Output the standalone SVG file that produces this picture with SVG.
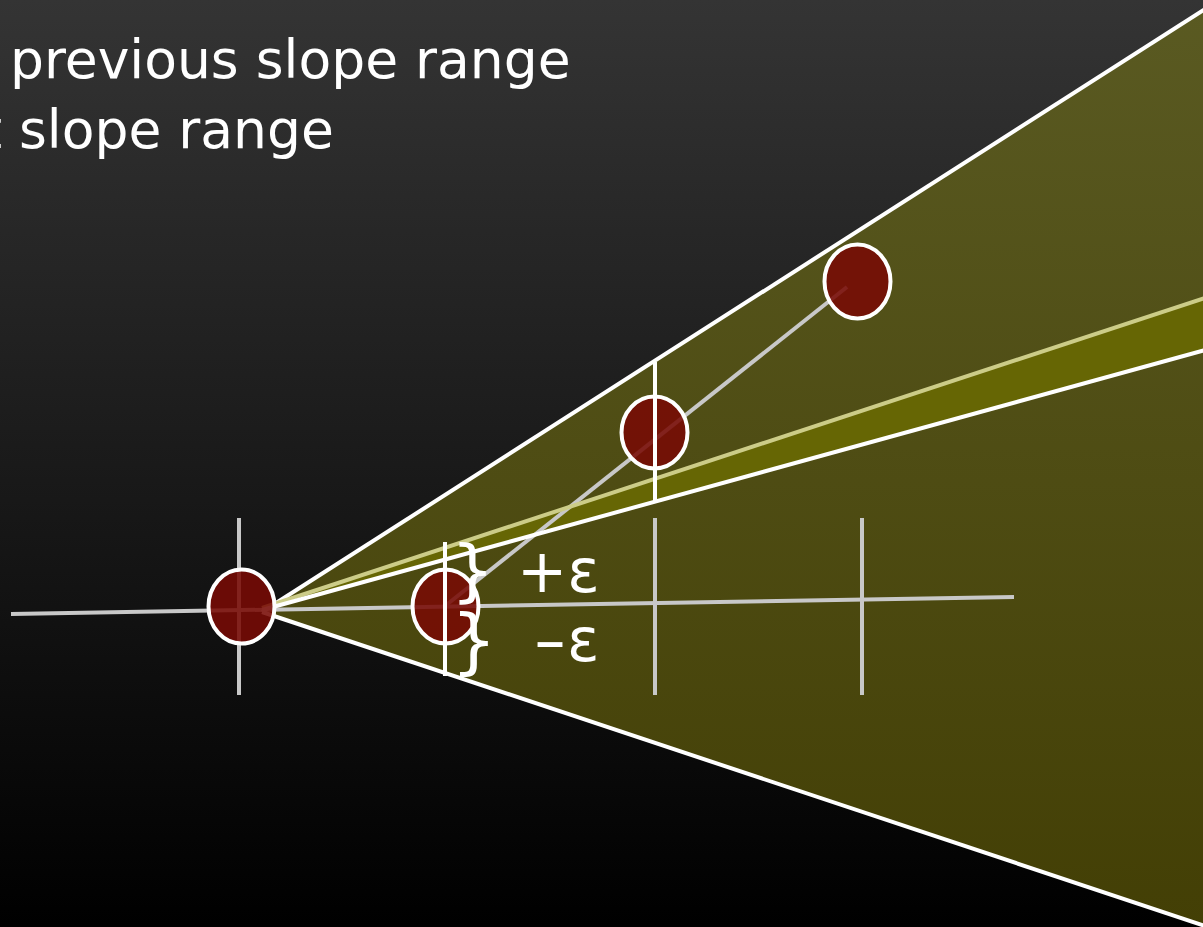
<svg xmlns="http://www.w3.org/2000/svg" width="1203" height="927" viewBox="0 0 1203 927">
  <defs>
    <linearGradient id="bg" x1="0" y1="0" x2="0" y2="1">
      <stop offset="0" stop-color="#343434"/>
      <stop offset="1" stop-color="#000000"/>
    </linearGradient>
    <linearGradient id="cone" x1="0" y1="0" x2="0" y2="927" gradientUnits="userSpaceOnUse">
      <stop offset="0" stop-color="#5a5a22"/>
      <stop offset="1" stop-color="#433f05"/>
    </linearGradient>
    <style>
      .txt { font-family: "DejaVu Sans", Verdana, sans-serif; fill: #ffffff; }
      .gray { stroke: #c8c8c8; stroke-width: 4; fill: none; }
      .white { stroke: #ffffff; stroke-width: 4; fill: none; }
      .pale { stroke: #cccc88; stroke-width: 4; fill: none; }
      .node { fill: #780a04; fill-opacity: 0.88; stroke: #ffffff; stroke-width: 4; }
    </style>
  </defs>
  <rect x="0" y="0" width="1203" height="927" fill="url(#bg)"/>

  <g id="slope-ranges">
    <polygon points="262,612 1203,10 1203,925" fill="url(#cone)"/>
    <polygon points="262,608 1203,299 1203,350 262,610" fill="#666604"/>
  </g>

  <g id="connectors">
    <line class="gray" x1="11" y1="614" x2="1014" y2="597"/>
    <line class="gray" x1="239" y1="518" x2="239" y2="695"/>
    <line class="gray" x1="655" y1="518" x2="655" y2="695"/>
    <line class="gray" x1="862" y1="518" x2="862" y2="695"/>
    <line class="gray" x1="445" y1="606" x2="847" y2="287"/>
    <line class="white" x1="262" y1="612" x2="1205" y2="9"/>
    <line class="white" x1="262" y1="612" x2="1205" y2="926"/>
    <line class="pale" x1="262" y1="608" x2="1205" y2="298"/>
    <line class="white" x1="262" y1="610" x2="1205" y2="350"/>
  </g>

  <g id="node-1"><ellipse class="node" cx="241.5" cy="606.5" rx="33" ry="37"/></g>
  <g id="node-2"><ellipse class="node" cx="445.5" cy="606.5" rx="33" ry="37"/></g>
  <g id="node-3"><ellipse class="node" cx="654.5" cy="432.5" rx="33" ry="36"/></g>
  <g id="node-4"><ellipse class="node" cx="857.5" cy="281.5" rx="33" ry="37"/></g>

  <g id="epsilon-marks">
    <line class="white" x1="445" y1="542" x2="445" y2="676"/>
    <line class="white" x1="655" y1="362" x2="655" y2="501"/>
    <text class="txt" x="451" y="594" font-size="68">}</text>
    <text class="txt" x="451" y="665" font-size="72">}</text>
    <text class="txt" x="517" y="592" font-size="60">+ε</text>
    <text class="txt" x="533" y="661" font-size="60"><tspan textLength="34" lengthAdjust="spacingAndGlyphs">-</tspan>ε</text>
  </g>

  <g id="legend">
    <text class="txt" x="10" y="78" font-size="53.5">previous slope range</text>
    <text class="txt" x="-19" y="148" font-size="53.5">t slope range</text>
  </g>
</svg>
